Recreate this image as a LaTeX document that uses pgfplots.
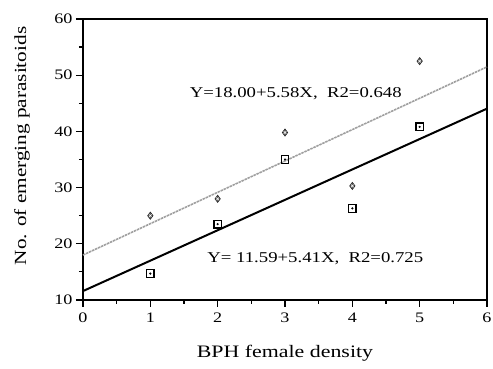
\documentclass[border=0pt]{standalone}
\usepackage{fontspec}
\setmainfont[FakeStretch=1.25]{Liberation Serif}
\usepackage{pgfplots}
\pgfplotsset{compat=1.18}
\begin{document}
\begin{tikzpicture}
\useasboundingbox (-83pt,-69pt) rectangle (410pt,300pt);
\begin{axis}[
  at={(0,0)}, anchor=south west,
  scale only axis, width=404pt, height=281pt,
  xmin=0, xmax=6, ymin=10, ymax=60,
  xtick={0,1,2,3,4,5,6}, ytick={10,20,30,40,50,60},
  minor xtick={0.5,1.5,2.5,3.5,4.5,5.5},
  minor ytick={15,25,35,45,55},
  tick align=outside, xtick pos=bottom, ytick pos=left,
  major tick length=7pt, minor tick length=4pt,
  every tick/.style={black, line width=1.2pt},
  axis line style={line width=1.2pt},
  /pgf/number format/assume math mode=true,
  tick label style={font=\fontsize{14.5}{16}\selectfont},
  xticklabel style={yshift=-2pt},
  label style={font=\fontsize{17.5}{20}\selectfont},
  xlabel={BPH female density},
  ylabel={No. of emerging parasitoids},
  xlabel style={at={(axis description cs:0.5,0)}, anchor=center, yshift=-53pt},
  ylabel style={at={(axis description cs:0,0.548)}, anchor=center, yshift=61pt, font=\fontsize{17}{20}\selectfont},
  clip=false,
]
% regression lines
\addplot[gray!75, line width=1.6pt, dash pattern=on 2.5pt off 0.8pt] coordinates {(0,18.00) (6,51.48)};
\addplot[black, line width=2pt] coordinates {(0,11.59) (6,44.05)};
% data
\addplot[only marks, mark=diamond*, mark size=3.6pt, mark options={fill=black!60, draw=black!85, line width=0.6pt}]
  coordinates {(1,25.0) (2,28.0) (3,39.8) (4,30.3) (5,52.5)};
\addplot[only marks, mark=x, mark size=1.8pt, mark options={draw=white, line width=0.5pt}]
  coordinates {(1,25.0) (2,28.0) (3,39.8) (4,30.3) (5,52.5)};
\addplot[only marks, mark=square, mark size=3.8pt, mark options={draw=black, line width=1.3pt}]
  coordinates {(1,14.7) (2,23.5) (3,35.0) (4,26.3) (5,40.8)};
\addplot[only marks, mark=*, mark size=0.9pt, mark options={fill=black}]
  coordinates {(1,14.7) (2,23.5) (3,35.0) (4,26.3) (5,40.8)};
\node[font=\fontsize{15}{18}\selectfont] at (axis cs:3.16,46.8) {Y=18.00+5.58X,\ \ R2=0.648};
\node[font=\fontsize{15}{18}\selectfont] at (axis cs:3.45,17.3) {Y= 11.59+5.41X,\ \ R2=0.725};
\end{axis}
\end{tikzpicture}
\end{document}
